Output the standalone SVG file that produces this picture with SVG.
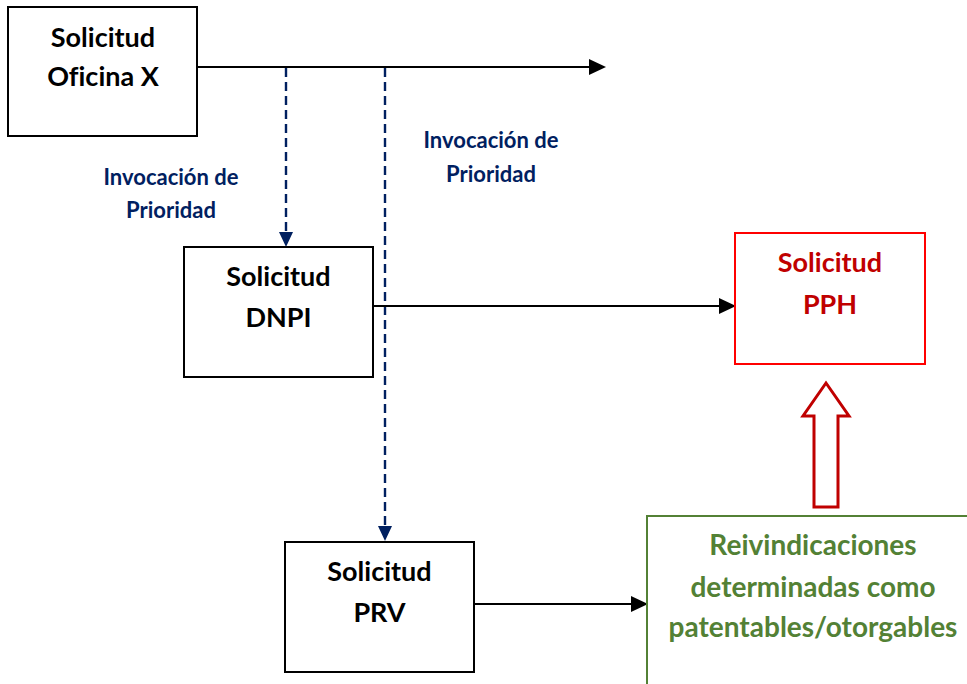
<svg xmlns="http://www.w3.org/2000/svg" width="967" height="684" viewBox="0 0 967 684">
<defs>
<style>
.box{fill:#fff;stroke:#000;stroke-width:2}
.t{font-family:Lato,"Liberation Sans",sans-serif;font-weight:bold;font-size:27px;text-anchor:middle;fill:#000;font-variant-ligatures:none}
.red{fill:#C00000}
.grn{fill:#538135;font-size:28px}
.lbl{font-family:Lato,"Liberation Sans",sans-serif;font-weight:bold;font-size:22px;text-anchor:middle;fill:#002060}
.ln{stroke:#000;stroke-width:2.2;fill:none}
.dash{stroke:#002060;stroke-width:2.4;stroke-dasharray:9 5;fill:none}
</style>
</defs>
<g id="connectors">
<line class="ln" x1="198" y1="67" x2="590" y2="67"/>
<path d="M589,59 L606,67 L589,75 z" fill="#000"/>
<line class="dash" x1="286" y1="68" x2="286" y2="232"/>
<path d="M279,232 L293,232 L286,247 z" fill="#002060"/>
<line class="dash" x1="385" y1="68" x2="385" y2="526"/>
<path d="M378,526 L392,526 L385,541 z" fill="#002060"/>
<line class="ln" x1="373" y1="306" x2="720" y2="306"/>
<path d="M719,298 L736,306 L719,314 z" fill="#000"/>
<line class="ln" x1="474" y1="604" x2="632" y2="604"/>
<path d="M631,596 L648,604 L631,612 z" fill="#000"/>
<path d="M826,383 L849,416 L838,416 L838,507 L814,507 L814,416 L803,416 z" fill="#fff" stroke="#C00000" stroke-width="3"/>
</g>
<g id="label-1">
<text class="lbl" x="171" y="185">Invocación de</text>
<text class="lbl" x="171" y="218">Prioridad</text>
</g>
<g id="label-2">
<text class="lbl" x="491" y="148">Invocación de</text>
<text class="lbl" x="491" y="182">Prioridad</text>
</g>
<g id="node-oficina">
<rect class="box" x="8" y="7" width="189" height="129"/>
<text class="t" x="103" y="47">Solicitud</text>
<text class="t" x="103" y="86">Oficina X</text>
</g>
<g id="node-dnpi">
<rect class="box" x="184" y="247" width="189" height="130"/>
<text class="t" x="278.5" y="286">Solicitud</text>
<text class="t" x="278.5" y="327">DNPI</text>
</g>
<g id="node-pph">
<rect x="735" y="233" width="190" height="131" fill="#fff" stroke="#FF0000" stroke-width="2"/>
<text class="t red" x="830" y="272">Solicitud</text>
<text class="t red" x="830" y="314">PPH</text>
</g>
<g id="node-prv">
<rect class="box" x="285" y="542" width="189" height="130"/>
<text class="t" x="379.5" y="581">Solicitud</text>
<text class="t" x="379.5" y="622">PRV</text>
</g>
<g id="node-reiv">
<rect x="647" y="516" width="340" height="200" fill="#fff" stroke="#538135" stroke-width="2"/>
<text class="t grn" x="813" y="555">Reivindicaciones</text>
<text class="t grn" x="813" y="597">determinadas como</text>
<text class="t grn" x="813" y="637">patentables/otorgables</text>
</g>
</svg>
